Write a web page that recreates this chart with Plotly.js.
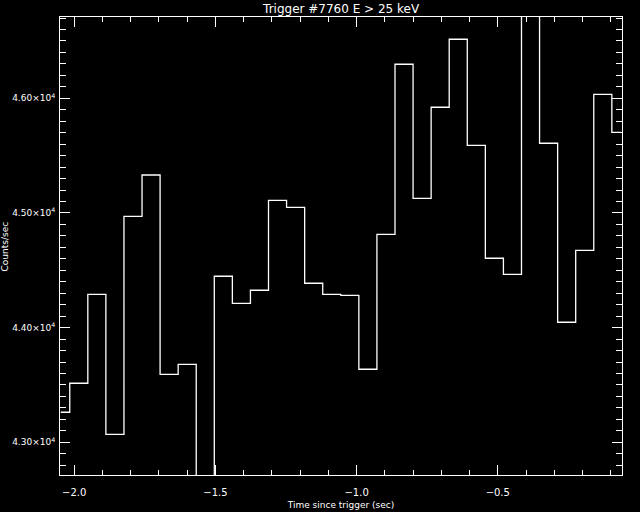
<!DOCTYPE html>
<html>
<head>
<meta charset="utf-8">
<script src="https://cdn.plot.ly/plotly-3.0.1.min.js"></script>
<style>html,body{margin:0;padding:0;background:#000;}#chart{width:640px;height:512px;}</style>
</head>
<body>
<div id="chart"></div>
<script>
const times = [-2.048, -1.984, -1.920, -1.856, -1.792, -1.728, -1.664, -1.600,
               -1.536, -1.472, -1.408, -1.344, -1.280, -1.216, -1.152, -1.088,
               -1.024, -0.960, -0.896, -0.832, -0.768, -0.704, -0.640, -0.576,
               -0.512, -0.448, -0.384, -0.320, -0.256, -0.192, -0.128, -0.064];
const counts = [43262, 43515, 44291, 43070, 44971, 45331, 43593, 43680,
                42600, 44448, 44212, 44326, 45110, 45049, 44387, 44291,
                44282, 43637, 44814, 46297, 45128, 45922, 46515, 45590,
                44605, 44465, 46900, 45608, 44047, 44674, 46035, 45703];
const xTickVals = [-2.0, -1.5, -1.0, -0.5];
const xTickText = ['\u22122.0', '\u22121.5', '\u22121.0', '\u22120.5'];
const yTickVals = [43000, 44000, 45000, 46000];
const yTickText = ['4.30\u00d710<sup>4</sup>', '4.40\u00d710<sup>4</sup>', '4.50\u00d710<sup>4</sup>', '4.60\u00d710<sup>4</sup>'];
const titleText = 'Trigger #7760 E > 25 keV';
const xTitle = 'Time since trigger (sec)';
const yTitle = 'Counts/sec';

const font = {family: 'DejaVu Sans', color: '#ffffff'};

const trace = {
  x: times, y: counts, type: 'scatter', mode: 'lines',
  line: {shape: 'hvh', color: '#ffffff', width: 1.3},
  hoverinfo: 'skip'
};

const axisCommon = {
  showline: true, linecolor: '#ffffff', linewidth: 1, mirror: 'ticks',
  ticks: 'inside', tickcolor: '#ffffff', tickwidth: 1, ticklen: 10,
  showgrid: false, zeroline: false, tickmode: 'array'
};

const layout = {
  width: 640, height: 512,
  margin: {l: 60, r: 18, t: 17, b: 37, pad: 0},
  paper_bgcolor: '#000000', plot_bgcolor: '#000000',
  showlegend: false,
  font: font,
  title: {text: titleText, font: {family: 'DejaVu Sans', size: 12, color: '#ffffff'},
          x: 0.533, xanchor: 'center', y: 0.982, yanchor: 'middle'},
  xaxis: Object.assign({}, axisCommon, {
    range: [-2.0505, -0.06], tickvals: xTickVals, ticktext: xTickText,
    tickfont: {family: 'DejaVu Sans', size: 10, color: '#ffffff'},
    ticklabelstandoff: 8,
    minor: {tickmode: 'linear', tick0: 0, dtick: 0.1, ticks: 'inside', ticklen: 5, tickcolor: '#ffffff', tickwidth: 1},
    title: {text: xTitle, font: {family: 'DejaVu Sans', size: 9, color: '#ffffff'}, standoff: 4}
  }),
  yaxis: Object.assign({}, axisCommon, {
    range: [42715, 46709], tickvals: yTickVals, ticktext: yTickText,
    tickfont: {family: 'DejaVu Sans', size: 9, color: '#ffffff'},
    ticklabelstandoff: 2,
    minor: {tickmode: 'linear', tick0: 0, dtick: 100, ticks: 'inside', ticklen: 6, tickcolor: '#ffffff', tickwidth: 1}
  }),
  annotations: [{
    text: yTitle, xref: 'paper', yref: 'paper', x: -0.097, y: 0.5,
    xanchor: 'center', yanchor: 'middle', textangle: -90, showarrow: false,
    font: {family: 'DejaVu Sans', size: 9, color: '#ffffff'}
  }]
};

Plotly.newPlot('chart', [trace], layout, {staticPlot: true, displayModeBar: false});
</script>
</body>
</html>
